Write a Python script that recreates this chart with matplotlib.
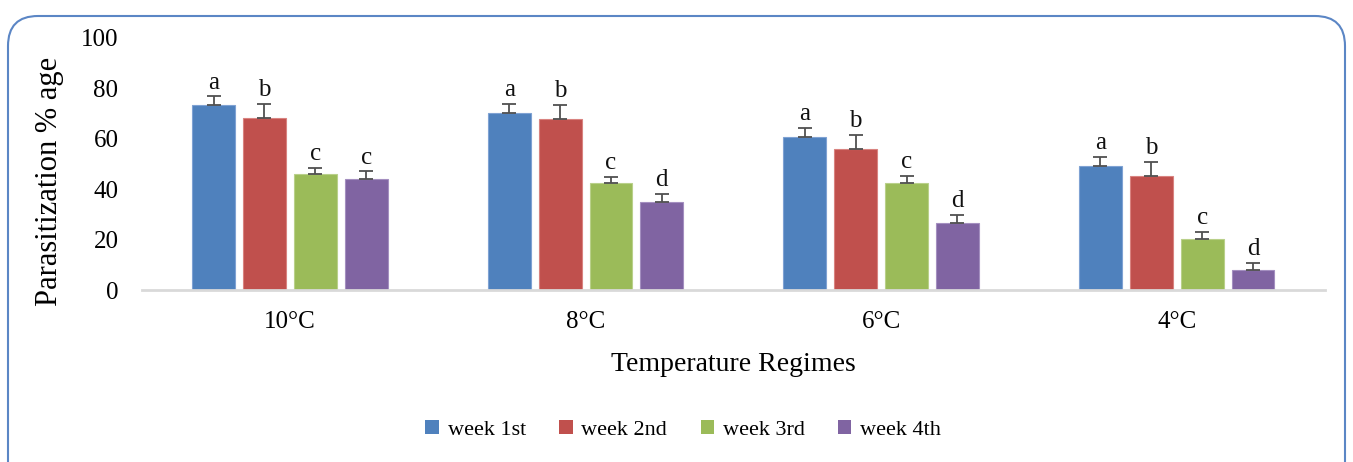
import matplotlib
matplotlib.use("Agg")
import matplotlib.pyplot as plt
import numpy as np
from matplotlib.patches import FancyBboxPatch, Patch

categories = ["10°C", "8°C", "6°C", "4°C"]
series_names = ["week 1st", "week 2nd", "week 3rd", "week 4th"]
week1 = [73.5, 70.1, 60.7, 49.1]
week2 = [68.4, 68.0, 56.0, 45.4]
week3 = [46.1, 42.4, 42.6, 20.2]
week4 = [44.0, 35.0, 26.7, 7.9]
err1 = [3.3, 3.6, 3.6, 3.6]
err2 = [5.5, 5.4, 5.5, 5.4]
err3 = [2.5, 2.5, 2.6, 2.8]
err4 = [3.1, 3.1, 3.0, 3.0]
letters1 = ["a", "a", "a", "a"]
letters2 = ["b", "b", "b", "b"]
letters3 = ["c", "c", "c", "c"]
letters4 = ["c", "d", "d", "d"]
yticks = [0, 20, 40, 60, 80, 100]

values = [week1, week2, week3, week4]
errors = [err1, err2, err3, err4]
letters = [letters1, letters2, letters3, letters4]
colors = ["#4F81BD", "#C0504D", "#9BBB59", "#8064A2"]
edgecols = ["#7FA2D3", "#D98380", "#B9D08A", "#A48FC0"]

serif = ["Liberation Serif", "DejaVu Serif"]
plt.rcParams["font.family"] = serif

fig = plt.figure(figsize=(13.53, 4.62), dpi=100)
fig.patch.set_facecolor("white")

# rounded border
border = FancyBboxPatch((0.38, -0.5), 13.53 - 0.76, 4.54 - 0.3 + 0.5 - 0.08,
                        boxstyle="round,pad=0.3,rounding_size=0.3",
                        transform=fig.dpi_scale_trans, facecolor="none",
                        edgecolor="#5B86C5", linewidth=1.5, zorder=0)
fig.patches.append(border)

ax = fig.add_axes([0.105, 0.372, 0.874, 0.546])
x = np.arange(len(categories))
w = 0.145
pitch = 0.172
offsets = (np.arange(4) - 1.5) * pitch
for i in range(4):
    xs = x + offsets[i]
    ax.bar(xs, values[i], width=w, color=colors[i], edgecolor=edgecols[i],
           linewidth=0.8, label=series_names[i], zorder=2)
    ax.errorbar(xs, values[i], yerr=[np.zeros(4), errors[i]], fmt="none",
                ecolor="#505050", elinewidth=1.3, capsize=5, capthick=1.3, zorder=3)
    for j in range(4):
        ax.annotate(letters[i][j], (xs[j], values[i][j] + errors[i][j]),
                    xytext=(0, 2), textcoords="offset points",
                    ha="center", va="bottom", fontsize=18, color="#111111")

ax.set_xlim(-0.5, 3.5)
ax.set_ylim(0, 100)
ax.set_yticks(yticks)
ax.set_yticklabels([str(t) for t in yticks], fontsize=18)
ax.set_xticks(x)
ax.set_xticklabels(categories, fontsize=18)
ax.tick_params(axis="x", length=0, pad=15)
ax.tick_params(axis="y", length=0, pad=17)
for s in ["top", "right", "left"]:
    ax.spines[s].set_visible(False)
ax.spines["bottom"].set_color("#D9D9D9")
ax.spines["bottom"].set_linewidth(2)
ax.set_facecolor("none")

ax.set_ylabel("Parasitization % age", fontsize=22)
ax.yaxis.set_label_coords(-0.066, 0.43)
ax.set_xlabel("Temperature Regimes", fontsize=20, labelpad=14)

handles = [Patch(facecolor=c, edgecolor="none") for c in colors]
fig.legend(handles, series_names, loc="center", bbox_to_anchor=(0.505, 0.069),
           ncol=4, frameon=False, fontsize=16, handlelength=0.6, handleheight=0.6,
           handletextpad=0.4, columnspacing=1.5)

fig.savefig("out.png", dpi=100, facecolor="white")
